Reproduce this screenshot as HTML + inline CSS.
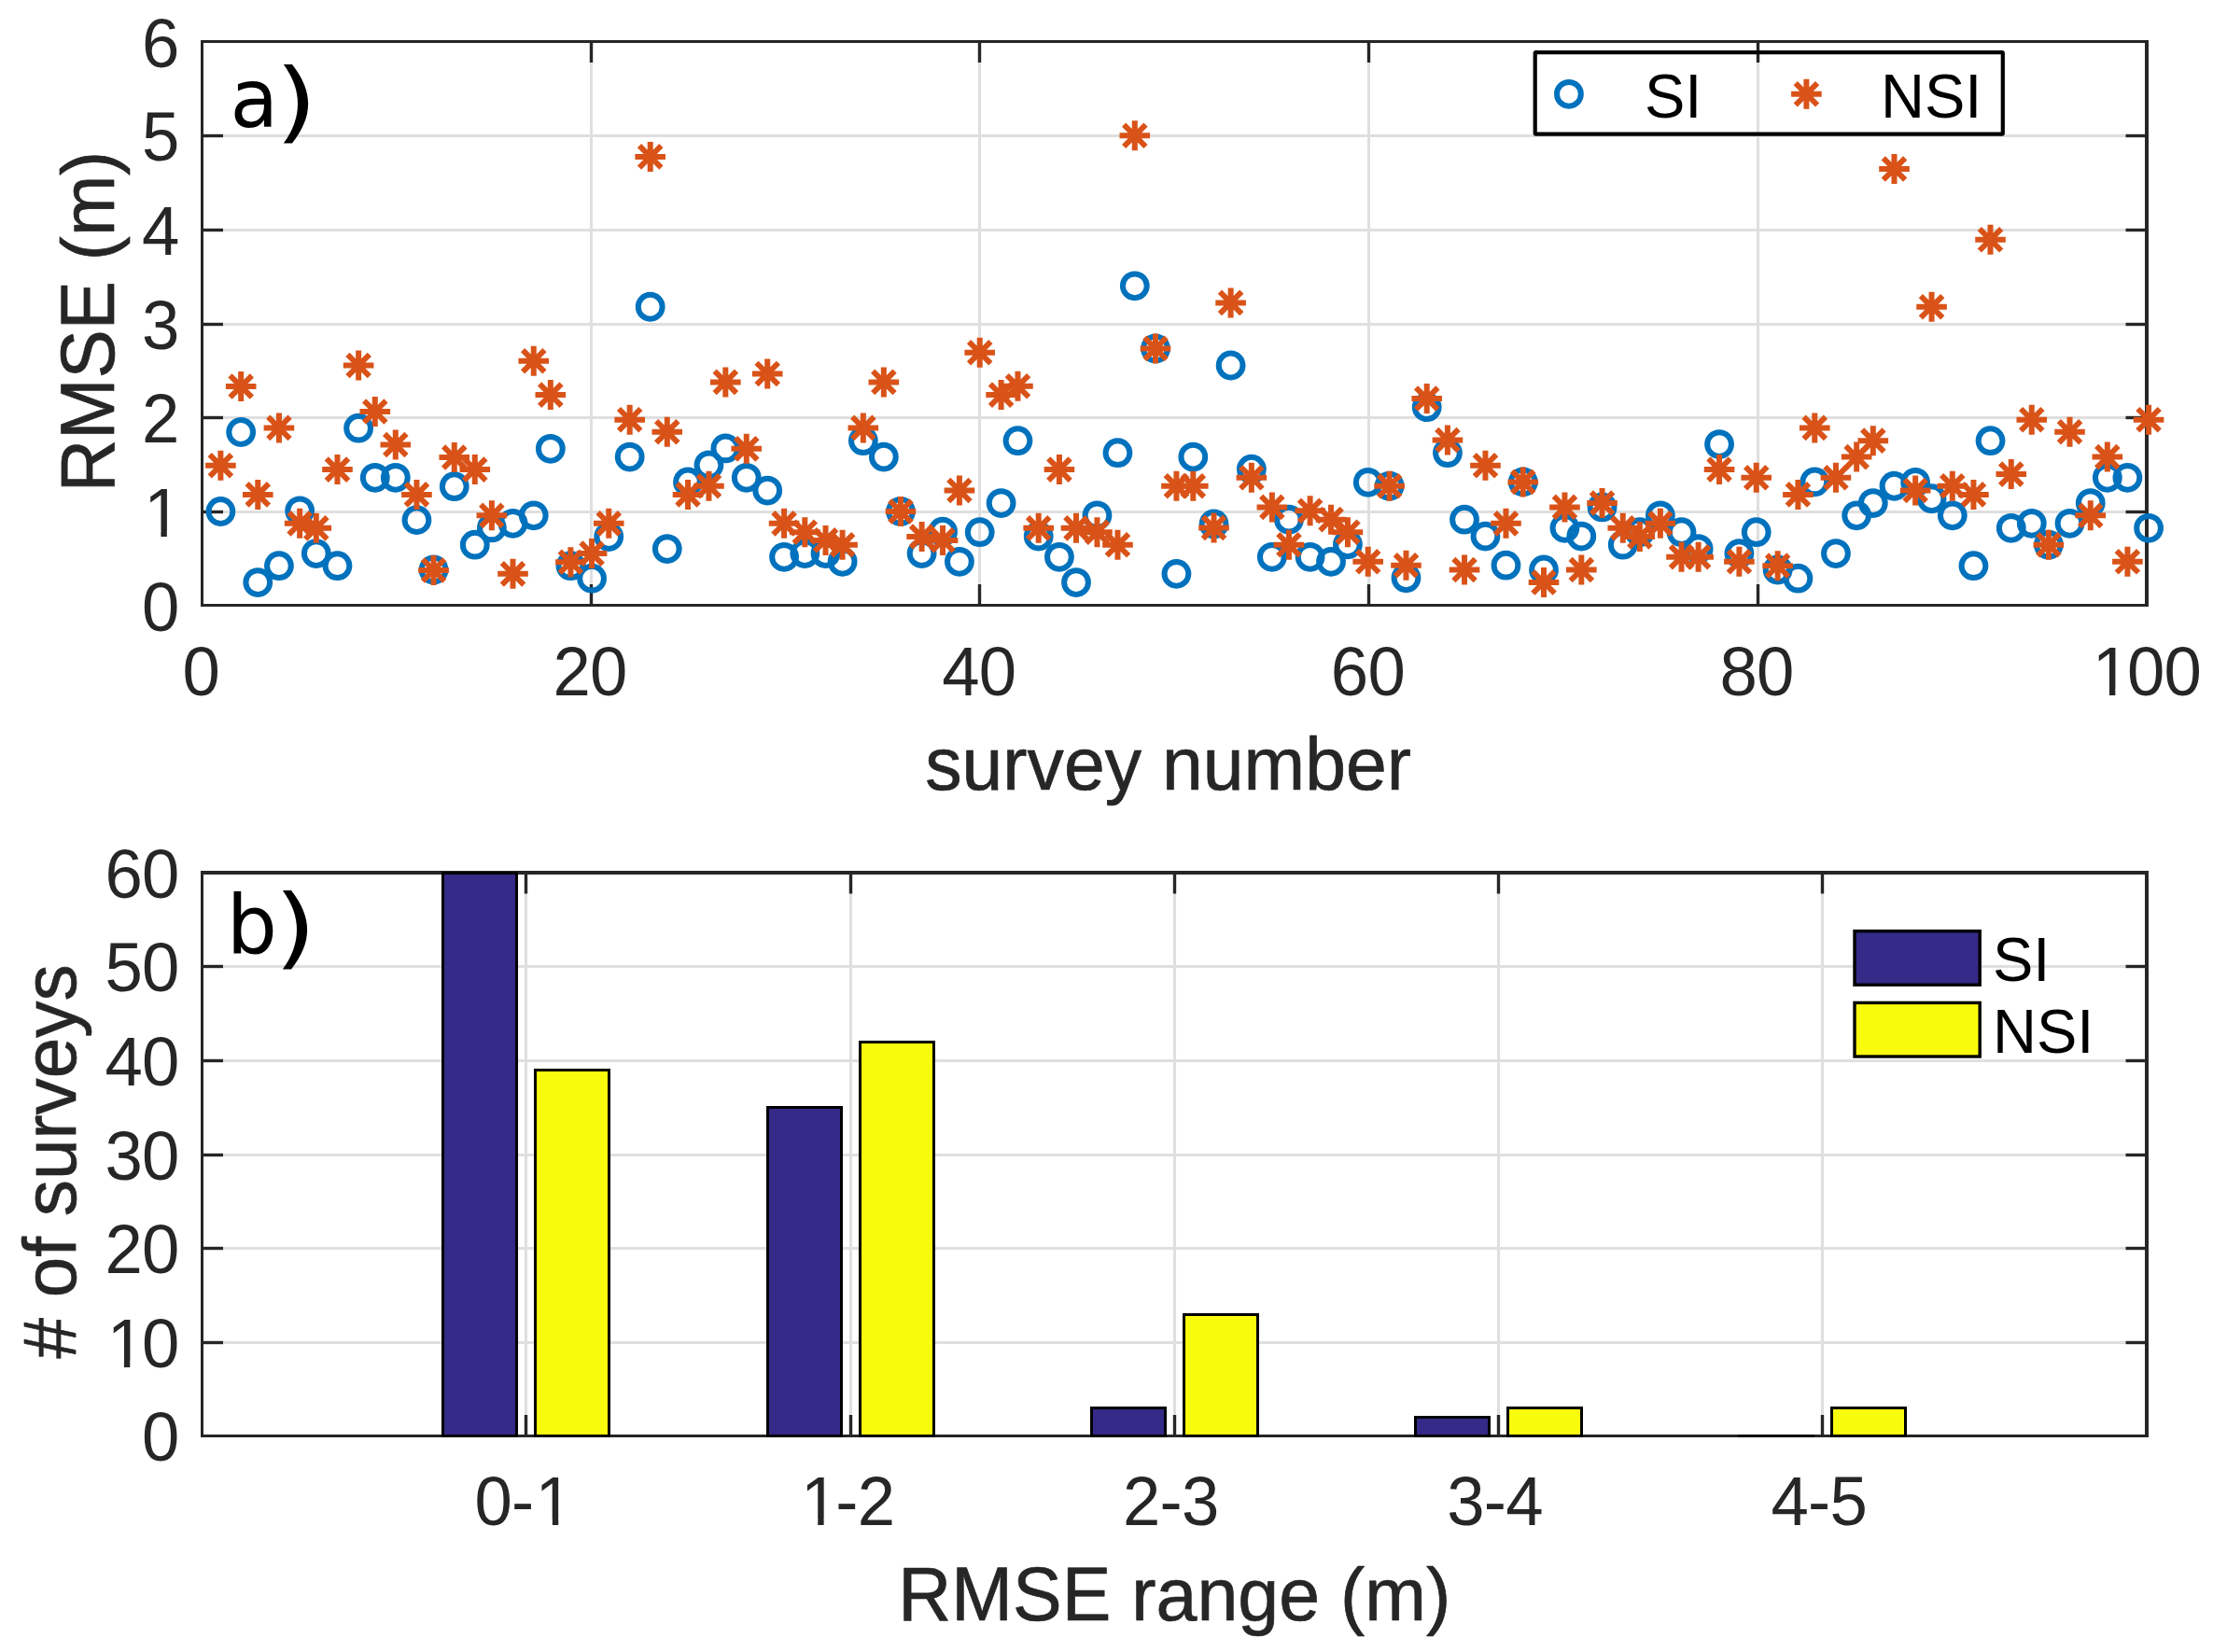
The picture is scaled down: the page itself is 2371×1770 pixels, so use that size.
<!DOCTYPE html>
<html lang="en"><head><meta charset="utf-8"><title>RMSE per survey: SI vs NSI</title>
<style>html,body{margin:0;padding:0;background:#fff}body{width:2371px;height:1770px;overflow:hidden}svg{display:block}</style>
</head><body>
<svg width="2371" height="1770" viewBox="0 0 2371 1770" font-family="Liberation Sans, Arial, Helvetica, sans-serif">
<rect width="2371" height="1770" fill="#fff"/>
<g id="ax1">
<line x1="633.5" y1="45" x2="633.5" y2="649" stroke="#dfdfdf" stroke-width="3.1"/>
<line x1="1049.5" y1="45" x2="1049.5" y2="649" stroke="#dfdfdf" stroke-width="3.1"/>
<line x1="1466.5" y1="45" x2="1466.5" y2="649" stroke="#dfdfdf" stroke-width="3.1"/>
<line x1="1883.5" y1="45" x2="1883.5" y2="649" stroke="#dfdfdf" stroke-width="3.1"/>
<line x1="216.5" y1="548.5" x2="2300" y2="548.5" stroke="#dfdfdf" stroke-width="3.1"/>
<line x1="216.5" y1="447.5" x2="2300" y2="447.5" stroke="#dfdfdf" stroke-width="3.1"/>
<line x1="216.5" y1="347.5" x2="2300" y2="347.5" stroke="#dfdfdf" stroke-width="3.1"/>
<line x1="216.5" y1="246.5" x2="2300" y2="246.5" stroke="#dfdfdf" stroke-width="3.1"/>
<line x1="216.5" y1="145.5" x2="2300" y2="145.5" stroke="#dfdfdf" stroke-width="3.1"/>
<line x1="633.5" y1="648.5" x2="633.5" y2="626" stroke="#262626" stroke-width="3.4"/>
<line x1="633.5" y1="44.5" x2="633.5" y2="67" stroke="#262626" stroke-width="3.4"/>
<line x1="1049.5" y1="648.5" x2="1049.5" y2="626" stroke="#262626" stroke-width="3.4"/>
<line x1="1049.5" y1="44.5" x2="1049.5" y2="67" stroke="#262626" stroke-width="3.4"/>
<line x1="1466.5" y1="648.5" x2="1466.5" y2="626" stroke="#262626" stroke-width="3.4"/>
<line x1="1466.5" y1="44.5" x2="1466.5" y2="67" stroke="#262626" stroke-width="3.4"/>
<line x1="1883.5" y1="648.5" x2="1883.5" y2="626" stroke="#262626" stroke-width="3.4"/>
<line x1="1883.5" y1="44.5" x2="1883.5" y2="67" stroke="#262626" stroke-width="3.4"/>
<line x1="216.5" y1="548.5" x2="239" y2="548.5" stroke="#262626" stroke-width="3.4"/>
<line x1="2300" y1="548.5" x2="2277.5" y2="548.5" stroke="#262626" stroke-width="3.4"/>
<line x1="216.5" y1="447.5" x2="239" y2="447.5" stroke="#262626" stroke-width="3.4"/>
<line x1="2300" y1="447.5" x2="2277.5" y2="447.5" stroke="#262626" stroke-width="3.4"/>
<line x1="216.5" y1="347.5" x2="239" y2="347.5" stroke="#262626" stroke-width="3.4"/>
<line x1="2300" y1="347.5" x2="2277.5" y2="347.5" stroke="#262626" stroke-width="3.4"/>
<line x1="216.5" y1="246.5" x2="239" y2="246.5" stroke="#262626" stroke-width="3.4"/>
<line x1="2300" y1="246.5" x2="2277.5" y2="246.5" stroke="#262626" stroke-width="3.4"/>
<line x1="216.5" y1="145.5" x2="239" y2="145.5" stroke="#262626" stroke-width="3.4"/>
<line x1="2300" y1="145.5" x2="2277.5" y2="145.5" stroke="#262626" stroke-width="3.4"/>
<line x1="216.5" y1="43" x2="216.5" y2="650" stroke="#262626" stroke-width="3"/>
<line x1="2300" y1="43" x2="2300" y2="650" stroke="#262626" stroke-width="4"/>
<line x1="215" y1="44.5" x2="2302" y2="44.5" stroke="#262626" stroke-width="3"/>
<line x1="215" y1="648.5" x2="2302" y2="648.5" stroke="#262626" stroke-width="3"/>
<g fill="none" stroke="#0072bd" stroke-width="6.0">
<circle cx="236.39" cy="547.98" r="12.9"/>
<circle cx="258.18" cy="462.99" r="12.9"/>
<circle cx="276.27" cy="624.03" r="12.9"/>
<circle cx="298.93" cy="606.16" r="12.9"/>
<circle cx="321.16" cy="547.32" r="12.9"/>
<circle cx="338.81" cy="593.08" r="12.9"/>
<circle cx="361.47" cy="606.16" r="12.9"/>
<circle cx="384.13" cy="458.64" r="12.9"/>
<circle cx="401.78" cy="511.8" r="12.9"/>
<circle cx="423.79" cy="511.8" r="12.9"/>
<circle cx="446.45" cy="557.13" r="12.9"/>
<circle cx="464.54" cy="610.52" r="12.9"/>
<circle cx="486.76" cy="521.17" r="12.9"/>
<circle cx="508.77" cy="583.71" r="12.9"/>
<circle cx="526.86" cy="565.41" r="12.9"/>
<circle cx="549.52" cy="560.83" r="12.9"/>
<circle cx="571.75" cy="552.34" r="12.9"/>
<circle cx="589.83" cy="480.86" r="12.9"/>
<circle cx="611.41" cy="606.16" r="12.9"/>
<circle cx="634.07" cy="619.67" r="12.9"/>
<circle cx="652.25" cy="575" r="12.9"/>
<circle cx="674.69" cy="489.58" r="12.9"/>
<circle cx="696.7" cy="328.76" r="12.9"/>
<circle cx="714.79" cy="588.07" r="12.9"/>
<circle cx="737.02" cy="516.38" r="12.9"/>
<circle cx="759.46" cy="498.29" r="12.9"/>
<circle cx="777.33" cy="480.43" r="12.9"/>
<circle cx="799.77" cy="511.8" r="12.9"/>
<circle cx="822.22" cy="525.53" r="12.9"/>
<circle cx="840.09" cy="596.79" r="12.9"/>
<circle cx="862.31" cy="593.08" r="12.9"/>
<circle cx="884.54" cy="593.08" r="12.9"/>
<circle cx="902.62" cy="601.8" r="12.9"/>
<circle cx="924.85" cy="472.15" r="12.9"/>
<circle cx="946.86" cy="489.58" r="12.9"/>
<circle cx="964.95" cy="547.98" r="12.9"/>
<circle cx="987.61" cy="593.08" r="12.9"/>
<circle cx="1010.05" cy="569.77" r="12.9"/>
<circle cx="1027.92" cy="601.8" r="12.9"/>
<circle cx="1049.71" cy="570.2" r="12.9"/>
<circle cx="1072.61" cy="539.04" r="12.9"/>
<circle cx="1090.48" cy="472.15" r="12.9"/>
<circle cx="1112.7" cy="574.56" r="12.9"/>
<circle cx="1134.93" cy="596.79" r="12.9"/>
<circle cx="1153.02" cy="624.03" r="12.9"/>
<circle cx="1175.46" cy="552.34" r="12.9"/>
<circle cx="1197.47" cy="485.22" r="12.9"/>
<circle cx="1215.8" cy="306.3" r="12.9"/>
<circle cx="1238" cy="373.43" r="12.9"/>
<circle cx="1260.44" cy="614.87" r="12.9"/>
<circle cx="1278.31" cy="489.58" r="12.9"/>
<circle cx="1300.54" cy="561.49" r="12.9"/>
<circle cx="1318.62" cy="391.52" r="12.9"/>
<circle cx="1340.85" cy="502.65" r="12.9"/>
<circle cx="1362.86" cy="596.79" r="12.9"/>
<circle cx="1380.95" cy="556.69" r="12.9"/>
<circle cx="1403.61" cy="596.79" r="12.9"/>
<circle cx="1426.05" cy="601.8" r="12.9"/>
<circle cx="1443.92" cy="583.28" r="12.9"/>
<circle cx="1465.71" cy="516.82" r="12.9"/>
<circle cx="1488.61" cy="520.74" r="12.9"/>
<circle cx="1506.48" cy="619.23" r="12.9"/>
<circle cx="1528.7" cy="436.19" r="12.9"/>
<circle cx="1550.93" cy="485.22" r="12.9"/>
<circle cx="1569.02" cy="556.69" r="12.9"/>
<circle cx="1591.46" cy="574.56" r="12.9"/>
<circle cx="1613.47" cy="605.72" r="12.9"/>
<circle cx="1631.77" cy="516.38" r="12.9"/>
<circle cx="1654" cy="610.52" r="12.9"/>
<circle cx="1676.44" cy="565.85" r="12.9"/>
<circle cx="1694.31" cy="574.56" r="12.9"/>
<circle cx="1716.54" cy="543.4" r="12.9"/>
<circle cx="1738.76" cy="583.71" r="12.9"/>
<circle cx="1756.85" cy="570.2" r="12.9"/>
<circle cx="1778.86" cy="552.34" r="12.9"/>
<circle cx="1801.52" cy="570.2" r="12.9"/>
<circle cx="1819.61" cy="588.07" r="12.9"/>
<circle cx="1842.05" cy="476.07" r="12.9"/>
<circle cx="1863.41" cy="593.08" r="12.9"/>
<circle cx="1881.71" cy="570.2" r="12.9"/>
<circle cx="1904.61" cy="610.52" r="12.9"/>
<circle cx="1926.4" cy="619.67" r="12.9"/>
<circle cx="1944.27" cy="516.38" r="12.9"/>
<circle cx="1966.93" cy="593.08" r="12.9"/>
<circle cx="1989.16" cy="552.34" r="12.9"/>
<circle cx="2006.81" cy="539.04" r="12.9"/>
<circle cx="2029.47" cy="520.74" r="12.9"/>
<circle cx="2052.13" cy="516.82" r="12.9"/>
<circle cx="2069.56" cy="534.25" r="12.9"/>
<circle cx="2091.79" cy="552.34" r="12.9"/>
<circle cx="2114.45" cy="606.16" r="12.9"/>
<circle cx="2132.54" cy="472.15" r="12.9"/>
<circle cx="2154.76" cy="565.85" r="12.9"/>
<circle cx="2176.77" cy="560.83" r="12.9"/>
<circle cx="2194.86" cy="583.71" r="12.9"/>
<circle cx="2217.52" cy="560.83" r="12.9"/>
<circle cx="2239.75" cy="539.04" r="12.9"/>
<circle cx="2257.83" cy="511.8" r="12.9"/>
<circle cx="2279.41" cy="511.8" r="12.9"/>
<circle cx="2302.07" cy="565.85" r="12.9"/>
</g>
<defs><path id="as" d="M-16.3 0H16.3M0 -16V16M-11.7 -11.7L11.7 11.7M-11.7 11.7L11.7 -11.7"/></defs>
<g fill="none" stroke="#d95319" stroke-width="6.0">
<use href="#as" x="236.39" y="498.73"/>
<use href="#as" x="258.18" y="413.96"/>
<use href="#as" x="276.27" y="529.89"/>
<use href="#as" x="298.93" y="458.42"/>
<use href="#as" x="321.16" y="560.83"/>
<use href="#as" x="338.81" y="565.85"/>
<use href="#as" x="361.47" y="503.09"/>
<use href="#as" x="384.13" y="391.52"/>
<use href="#as" x="401.78" y="440.99"/>
<use href="#as" x="423.79" y="476.5"/>
<use href="#as" x="446.45" y="529.89"/>
<use href="#as" x="464.54" y="610.95"/>
<use href="#as" x="486.76" y="490.01"/>
<use href="#as" x="508.77" y="503.09"/>
<use href="#as" x="526.86" y="552.34"/>
<use href="#as" x="549.52" y="614.87"/>
<use href="#as" x="571.75" y="386.73"/>
<use href="#as" x="589.83" y="423.12"/>
<use href="#as" x="611.41" y="602.24"/>
<use href="#as" x="634.07" y="593.08"/>
<use href="#as" x="652.25" y="560.83"/>
<use href="#as" x="674.69" y="449.7"/>
<use href="#as" x="696.7" y="167.9"/>
<use href="#as" x="714.79" y="462.78"/>
<use href="#as" x="737.02" y="529.89"/>
<use href="#as" x="759.46" y="520.74"/>
<use href="#as" x="777.33" y="409.39"/>
<use href="#as" x="799.77" y="480.86"/>
<use href="#as" x="822.22" y="400.45"/>
<use href="#as" x="840.09" y="560.83"/>
<use href="#as" x="862.31" y="570.2"/>
<use href="#as" x="884.54" y="578.92"/>
<use href="#as" x="902.62" y="583.71"/>
<use href="#as" x="924.85" y="458.42"/>
<use href="#as" x="946.86" y="409.39"/>
<use href="#as" x="964.95" y="547.98"/>
<use href="#as" x="987.61" y="575"/>
<use href="#as" x="1010.05" y="578.92"/>
<use href="#as" x="1027.92" y="525.53"/>
<use href="#as" x="1049.71" y="377.79"/>
<use href="#as" x="1072.61" y="423.12"/>
<use href="#as" x="1090.48" y="413.75"/>
<use href="#as" x="1112.7" y="565.85"/>
<use href="#as" x="1134.93" y="503.09"/>
<use href="#as" x="1153.02" y="565.85"/>
<use href="#as" x="1175.46" y="570.2"/>
<use href="#as" x="1197.47" y="583.71"/>
<use href="#as" x="1215.8" y="145.3"/>
<use href="#as" x="1238" y="373.43"/>
<use href="#as" x="1260.44" y="520.74"/>
<use href="#as" x="1278.31" y="520.74"/>
<use href="#as" x="1300.54" y="565.41"/>
<use href="#as" x="1318.62" y="324.41"/>
<use href="#as" x="1340.85" y="511.8"/>
<use href="#as" x="1362.86" y="543.4"/>
<use href="#as" x="1380.95" y="583.71"/>
<use href="#as" x="1403.61" y="547.32"/>
<use href="#as" x="1426.05" y="556.69"/>
<use href="#as" x="1443.92" y="570.2"/>
<use href="#as" x="1465.71" y="601.8"/>
<use href="#as" x="1488.61" y="520.74"/>
<use href="#as" x="1506.48" y="605.72"/>
<use href="#as" x="1528.7" y="427.04"/>
<use href="#as" x="1550.93" y="471.49"/>
<use href="#as" x="1569.02" y="610.52"/>
<use href="#as" x="1591.46" y="498.73"/>
<use href="#as" x="1613.47" y="560.83"/>
<use href="#as" x="1631.77" y="516.38"/>
<use href="#as" x="1654" y="624.03"/>
<use href="#as" x="1676.44" y="543.4"/>
<use href="#as" x="1694.31" y="610.52"/>
<use href="#as" x="1716.54" y="539.04"/>
<use href="#as" x="1738.76" y="565.85"/>
<use href="#as" x="1756.85" y="575"/>
<use href="#as" x="1778.86" y="560.83"/>
<use href="#as" x="1801.52" y="596.79"/>
<use href="#as" x="1819.61" y="596.79"/>
<use href="#as" x="1842.05" y="503.09"/>
<use href="#as" x="1863.41" y="601.8"/>
<use href="#as" x="1881.71" y="511.8"/>
<use href="#as" x="1904.61" y="606.16"/>
<use href="#as" x="1926.4" y="529.89"/>
<use href="#as" x="1944.27" y="458.42"/>
<use href="#as" x="1966.93" y="511.8"/>
<use href="#as" x="1989.16" y="489.58"/>
<use href="#as" x="2006.81" y="472.15"/>
<use href="#as" x="2029.5" y="181"/>
<use href="#as" x="2052.13" y="525.53"/>
<use href="#as" x="2069.56" y="328.76"/>
<use href="#as" x="2091.79" y="520.74"/>
<use href="#as" x="2114.45" y="529.89"/>
<use href="#as" x="2132.5" y="256.8"/>
<use href="#as" x="2154.76" y="508.1"/>
<use href="#as" x="2176.77" y="449.7"/>
<use href="#as" x="2194.86" y="583.71"/>
<use href="#as" x="2217.52" y="462.78"/>
<use href="#as" x="2239.75" y="552.34"/>
<use href="#as" x="2257.83" y="489.58"/>
<use href="#as" x="2279.41" y="601.8"/>
<use href="#as" x="2302.07" y="449.7"/>
</g>
<text transform="translate(0 744.6) scale(1 1.028)" x="195.54" y="0" font-size="72.5" fill="#262626">0</text>
<text transform="translate(0 744.6) scale(1 1.028)" x="592.48 632" y="0" font-size="72.5" fill="#262626">20</text>
<text transform="translate(0 744.6) scale(1 1.028)" x="1009.18 1048.7" y="0" font-size="72.5" fill="#262626">40</text>
<text transform="translate(0 744.6) scale(1 1.028)" x="1425.88 1465.4" y="0" font-size="72.5" fill="#262626">60</text>
<text transform="translate(0 744.6) scale(1 1.028)" x="1842.58 1882.1" y="0" font-size="72.5" fill="#262626">80</text>
<text transform="translate(0 744.6) scale(1 1.028)" x="2241.72 2279.04 2318.56" y="0" font-size="72.5" fill="#262626">100</text>
<rect x="2245.74" y="738.23" width="14.21" height="7.87" fill="#fff"/>
<rect x="2266.36" y="738.23" width="13.64" height="7.87" fill="#fff"/>
<text transform="translate(0 675.5) scale(1 1.028)" x="151.98" y="0" font-size="72.5" fill="#262626">0</text>
<text transform="translate(0 574.83) scale(1 1.028)" x="154.18" y="0" font-size="72.5" fill="#262626">1</text>
<rect x="158.2" y="568.47" width="14.21" height="7.87" fill="#fff"/>
<rect x="178.82" y="568.47" width="13.64" height="7.87" fill="#fff"/>
<text transform="translate(0 474.17) scale(1 1.028)" x="151.98" y="0" font-size="72.5" fill="#262626">2</text>
<text transform="translate(0 373.5) scale(1 1.028)" x="151.98" y="0" font-size="72.5" fill="#262626">3</text>
<text transform="translate(0 272.83) scale(1 1.028)" x="151.98" y="0" font-size="72.5" fill="#262626">4</text>
<text transform="translate(0 172.17) scale(1 1.028)" x="151.98" y="0" font-size="72.5" fill="#262626">5</text>
<text transform="translate(0 71.5) scale(1 1.028)" x="151.98" y="0" font-size="72.5" fill="#262626">6</text>
<text transform="translate(1251.6 845.6) scale(0.991 1)" stroke="#262626" stroke-width="0.7" stroke-linejoin="round" font-size="79.5" text-anchor="middle" fill="#262626">survey number</text>
<text transform="translate(121.7 344.5) rotate(-90) scale(0.985 1)" stroke="#262626" stroke-width="0.7" stroke-linejoin="round" font-size="79.5" text-anchor="middle" fill="#262626"><tspan font-size="82.36" textLength="229.69" lengthAdjust="spacingAndGlyphs">RMSE</tspan> (m)</text>
<text x="246.5" y="136.2" font-family="DejaVu Sans, Verdana, Tahoma, sans-serif" fill="#000"><tspan font-size="88" textLength="51.6" lengthAdjust="spacingAndGlyphs">a</tspan><tspan font-size="95" dx="-3.5" dy="4.5" textLength="45.7" lengthAdjust="spacingAndGlyphs">)</tspan></text>
<rect x="1644.7" y="56.2" width="501.1" height="87.4" rx="0.8" fill="none" stroke="#000" stroke-width="4.2"/>
<circle cx="1680.9" cy="100.8" r="12.9" fill="none" stroke="#0072bd" stroke-width="6.0"/>
<use href="#as" x="1935.4" y="100.8" fill="none" stroke="#d95319" stroke-width="6.0"/>
<text transform="translate(1762 126.2) scale(1 1.03)" font-size="65" text-anchor="start" fill="#000">SI</text>
<text transform="translate(2015 126.2) scale(1 1.03)" font-size="65" text-anchor="start" fill="#000">NSI</text>
</g>
<g id="ax2">
<line x1="563.5" y1="935.3" x2="563.5" y2="1539" stroke="#dfdfdf" stroke-width="3.1"/>
<line x1="911.5" y1="935.3" x2="911.5" y2="1539" stroke="#dfdfdf" stroke-width="3.1"/>
<line x1="1258.5" y1="935.3" x2="1258.5" y2="1539" stroke="#dfdfdf" stroke-width="3.1"/>
<line x1="1605.5" y1="935.3" x2="1605.5" y2="1539" stroke="#dfdfdf" stroke-width="3.1"/>
<line x1="1952.5" y1="935.3" x2="1952.5" y2="1539" stroke="#dfdfdf" stroke-width="3.1"/>
<line x1="216.5" y1="1438.5" x2="2300" y2="1438.5" stroke="#dfdfdf" stroke-width="3.1"/>
<line x1="216.5" y1="1337.5" x2="2300" y2="1337.5" stroke="#dfdfdf" stroke-width="3.1"/>
<line x1="216.5" y1="1237.5" x2="2300" y2="1237.5" stroke="#dfdfdf" stroke-width="3.1"/>
<line x1="216.5" y1="1136.5" x2="2300" y2="1136.5" stroke="#dfdfdf" stroke-width="3.1"/>
<line x1="216.5" y1="1035.5" x2="2300" y2="1035.5" stroke="#dfdfdf" stroke-width="3.1"/>
<line x1="563.5" y1="1538.5" x2="563.5" y2="1516" stroke="#262626" stroke-width="3.4"/>
<line x1="563.5" y1="935" x2="563.5" y2="957.5" stroke="#262626" stroke-width="3.4"/>
<line x1="911.5" y1="1538.5" x2="911.5" y2="1516" stroke="#262626" stroke-width="3.4"/>
<line x1="911.5" y1="935" x2="911.5" y2="957.5" stroke="#262626" stroke-width="3.4"/>
<line x1="1258.5" y1="1538.5" x2="1258.5" y2="1516" stroke="#262626" stroke-width="3.4"/>
<line x1="1258.5" y1="935" x2="1258.5" y2="957.5" stroke="#262626" stroke-width="3.4"/>
<line x1="1605.5" y1="1538.5" x2="1605.5" y2="1516" stroke="#262626" stroke-width="3.4"/>
<line x1="1605.5" y1="935" x2="1605.5" y2="957.5" stroke="#262626" stroke-width="3.4"/>
<line x1="1952.5" y1="1538.5" x2="1952.5" y2="1516" stroke="#262626" stroke-width="3.4"/>
<line x1="1952.5" y1="935" x2="1952.5" y2="957.5" stroke="#262626" stroke-width="3.4"/>
<line x1="216.5" y1="1438.5" x2="239" y2="1438.5" stroke="#262626" stroke-width="3.4"/>
<line x1="2300" y1="1438.5" x2="2277.5" y2="1438.5" stroke="#262626" stroke-width="3.4"/>
<line x1="216.5" y1="1337.5" x2="239" y2="1337.5" stroke="#262626" stroke-width="3.4"/>
<line x1="2300" y1="1337.5" x2="2277.5" y2="1337.5" stroke="#262626" stroke-width="3.4"/>
<line x1="216.5" y1="1237.5" x2="239" y2="1237.5" stroke="#262626" stroke-width="3.4"/>
<line x1="2300" y1="1237.5" x2="2277.5" y2="1237.5" stroke="#262626" stroke-width="3.4"/>
<line x1="216.5" y1="1136.5" x2="239" y2="1136.5" stroke="#262626" stroke-width="3.4"/>
<line x1="2300" y1="1136.5" x2="2277.5" y2="1136.5" stroke="#262626" stroke-width="3.4"/>
<line x1="216.5" y1="1035.5" x2="239" y2="1035.5" stroke="#262626" stroke-width="3.4"/>
<line x1="2300" y1="1035.5" x2="2277.5" y2="1035.5" stroke="#262626" stroke-width="3.4"/>
<line x1="216.5" y1="933" x2="216.5" y2="1540" stroke="#262626" stroke-width="3"/>
<line x1="2300" y1="933" x2="2300" y2="1540" stroke="#262626" stroke-width="4"/>
<line x1="215" y1="935" x2="2302" y2="935" stroke="#262626" stroke-width="4"/>
<line x1="215" y1="1538.5" x2="2302" y2="1538.5" stroke="#262626" stroke-width="3"/>
<rect x="474.5" y="935.5" width="79" height="603" fill="#352a87" stroke="#000" stroke-width="3"/>
<rect x="573.5" y="1146.5" width="79" height="392" fill="#f9fb0e" stroke="#000" stroke-width="3"/>
<rect x="822.5" y="1186.5" width="79" height="352" fill="#352a87" stroke="#000" stroke-width="3"/>
<rect x="921.5" y="1116.5" width="79" height="422" fill="#f9fb0e" stroke="#000" stroke-width="3"/>
<rect x="1169.5" y="1508.5" width="79" height="30" fill="#352a87" stroke="#000" stroke-width="3"/>
<rect x="1268.5" y="1408.5" width="79" height="130" fill="#f9fb0e" stroke="#000" stroke-width="3"/>
<rect x="1516.5" y="1518.5" width="79" height="20" fill="#352a87" stroke="#000" stroke-width="3"/>
<rect x="1615.5" y="1508.5" width="79" height="30" fill="#f9fb0e" stroke="#000" stroke-width="3"/>
<line x1="1862" y1="1538.5" x2="1944" y2="1538.5" stroke="#000" stroke-width="3"/>
<rect x="1962.5" y="1508.5" width="79" height="30" fill="#f9fb0e" stroke="#000" stroke-width="3"/>
<text transform="translate(0 1633.9) scale(1 1.028)" x="508.56 548.08 573.62" y="0" font-size="72.5" fill="#262626">0-1</text>
<rect x="577.64" y="1627.53" width="14.21" height="7.87" fill="#fff"/>
<rect x="598.26" y="1627.53" width="13.64" height="7.87" fill="#fff"/>
<text transform="translate(0 1633.9) scale(1 1.028)" x="858.01 895.33 918.67" y="0" font-size="72.5" fill="#262626">1-2</text>
<rect x="862.03" y="1627.53" width="14.21" height="7.87" fill="#fff"/>
<rect x="882.65" y="1627.53" width="13.64" height="7.87" fill="#fff"/>
<text transform="translate(0 1633.9) scale(1 1.028)" x="1203.06 1242.58 1265.92" y="0" font-size="72.5" fill="#262626">2-3</text>
<text transform="translate(0 1633.9) scale(1 1.028)" x="1550.31 1589.83 1613.17" y="0" font-size="72.5" fill="#262626">3-4</text>
<text transform="translate(0 1633.9) scale(1 1.028)" x="1897.56 1937.08 1960.42" y="0" font-size="72.5" fill="#262626">4-5</text>
<text transform="translate(0 1565.4) scale(1 1.028)" x="151.98" y="0" font-size="72.5" fill="#262626">0</text>
<text transform="translate(0 1464.78) scale(1 1.028)" x="114.66 151.98" y="0" font-size="72.5" fill="#262626">10</text>
<rect x="118.68" y="1458.42" width="14.21" height="7.87" fill="#fff"/>
<rect x="139.3" y="1458.42" width="13.64" height="7.87" fill="#fff"/>
<text transform="translate(0 1364.17) scale(1 1.028)" x="112.46 151.98" y="0" font-size="72.5" fill="#262626">20</text>
<text transform="translate(0 1263.55) scale(1 1.028)" x="112.46 151.98" y="0" font-size="72.5" fill="#262626">30</text>
<text transform="translate(0 1162.93) scale(1 1.028)" x="112.46 151.98" y="0" font-size="72.5" fill="#262626">40</text>
<text transform="translate(0 1062.32) scale(1 1.028)" x="112.46 151.98" y="0" font-size="72.5" fill="#262626">50</text>
<text transform="translate(0 961.7) scale(1 1.028)" x="112.46 151.98" y="0" font-size="72.5" fill="#262626">60</text>
<text transform="translate(1258.3 1736) scale(0.993 1)" stroke="#262626" stroke-width="0.7" stroke-linejoin="round" font-size="79.5" text-anchor="middle" fill="#262626"><tspan font-size="82.36" textLength="229.69" lengthAdjust="spacingAndGlyphs">RMSE</tspan> range (m)</text>
<text transform="translate(81 1244.5) rotate(-90) scale(0.985 1)" stroke="#262626" stroke-width="0.7" stroke-linejoin="round" font-size="79.5" text-anchor="middle" fill="#262626"># of surveys</text>
<text x="242.8" y="1021" font-family="DejaVu Sans, Verdana, Tahoma, sans-serif" fill="#000"><tspan font-size="88" textLength="54.2" lengthAdjust="spacingAndGlyphs">b</tspan><tspan font-size="95" dx="-3.5" dy="4.5" textLength="45.7" lengthAdjust="spacingAndGlyphs">)</tspan></text>
<rect x="1987" y="997.6" width="134.2" height="57.6" fill="#352a87" stroke="#000" stroke-width="3.4"/>
<rect x="1987" y="1074.4" width="134.2" height="57.6" fill="#f9fb0e" stroke="#000" stroke-width="3.4"/>
<text transform="translate(2135 1050.6) scale(1 1.03)" font-size="65" text-anchor="start" fill="#000">SI</text>
<text transform="translate(2135 1127.7) scale(1 1.03)" font-size="65" text-anchor="start" fill="#000">NSI</text>
</g>
</svg>
</body></html>
